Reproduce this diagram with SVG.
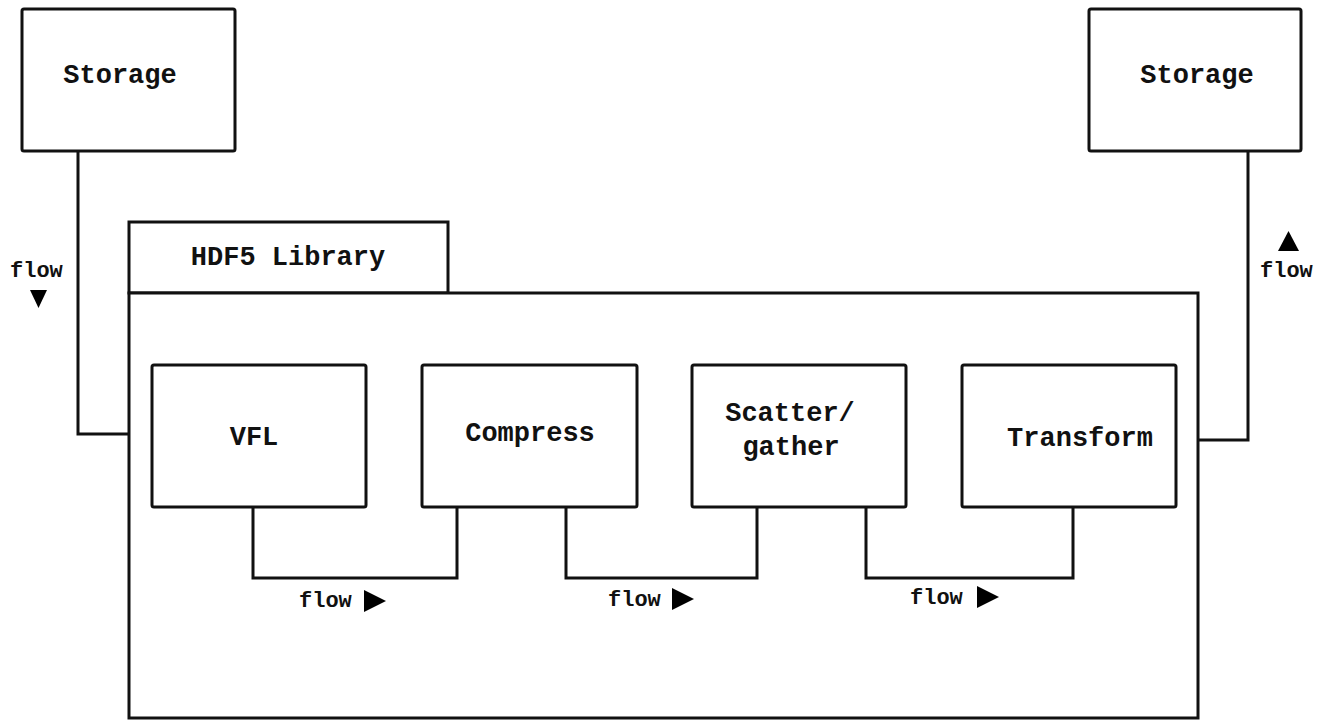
<svg xmlns="http://www.w3.org/2000/svg" width="1324" height="722" viewBox="0 0 1324 722">
<style>
.box{fill:#fff;stroke:#111;stroke-width:3}
.ln{fill:none;stroke:#111;stroke-width:3}
.t{font-family:"Liberation Mono","Courier New",monospace;font-weight:bold;font-size:27px;fill:#111;text-anchor:middle}
.f{font-family:"Liberation Mono","Courier New",monospace;font-weight:bold;font-size:22px;fill:#111}
.ar{fill:#000}
</style>
<rect width="1324" height="722" fill="#fff"/>
<g id="hdf5-library">
<rect class="box" x="129" y="222" width="319" height="71"/>
<rect class="box" x="129" y="293" width="1069" height="425"/>
<text class="t" x="288" y="265">HDF5 Library</text>
</g>
<g id="storage-left">
<rect class="box" x="22" y="9" width="213" height="142" rx="2"/>
<text class="t" x="120" y="83">Storage</text>
</g>
<g id="storage-right">
<rect class="box" x="1089" y="9" width="212" height="142" rx="2"/>
<text class="t" x="1197" y="83">Storage</text>
</g>
<g id="vfl">
<rect class="box" x="152" y="365" width="214" height="142" rx="2"/>
<text class="t" x="254" y="445">VFL</text>
</g>
<g id="compress">
<rect class="box" x="422" y="365" width="215" height="142" rx="2"/>
<text class="t" x="530" y="441">Compress</text>
</g>
<g id="scatter-gather">
<rect class="box" x="692" y="365" width="214" height="142" rx="2"/>
<text class="t" x="790" y="421">Scatter/</text>
<text class="t" x="791" y="455">gather</text>
</g>
<g id="transform">
<rect class="box" x="962" y="365" width="214" height="142" rx="2"/>
<text class="t" x="1080" y="446">Transform</text>
</g>
<g id="connectors">
<polyline class="ln" points="78,151 78,434 129,434"/>
<polyline class="ln" points="1198,440 1248,440 1248,151"/>
<polyline class="ln" points="253,507 253,578 457,578 457,507"/>
<polyline class="ln" points="566,507 566,578 757,578 757,507"/>
<polyline class="ln" points="866,507 866,578 1073,578 1073,507"/>
<text class="f" x="10" y="277">flow</text>
<polygon class="ar" points="30,290 47,290 38.5,308"/>
<polygon class="ar" points="1278,251 1299,251 1288.5,231"/>
<text class="f" x="1260" y="277">flow</text>
<text class="f" x="299" y="607">flow</text>
<polygon class="ar" points="364,590 364,612 386,601"/>
<text class="f" x="608" y="606">flow</text>
<polygon class="ar" points="672,588 672,610 694,599"/>
<text class="f" x="910" y="604">flow</text>
<polygon class="ar" points="977,586 977,608 999,597"/>
</g>
</svg>
